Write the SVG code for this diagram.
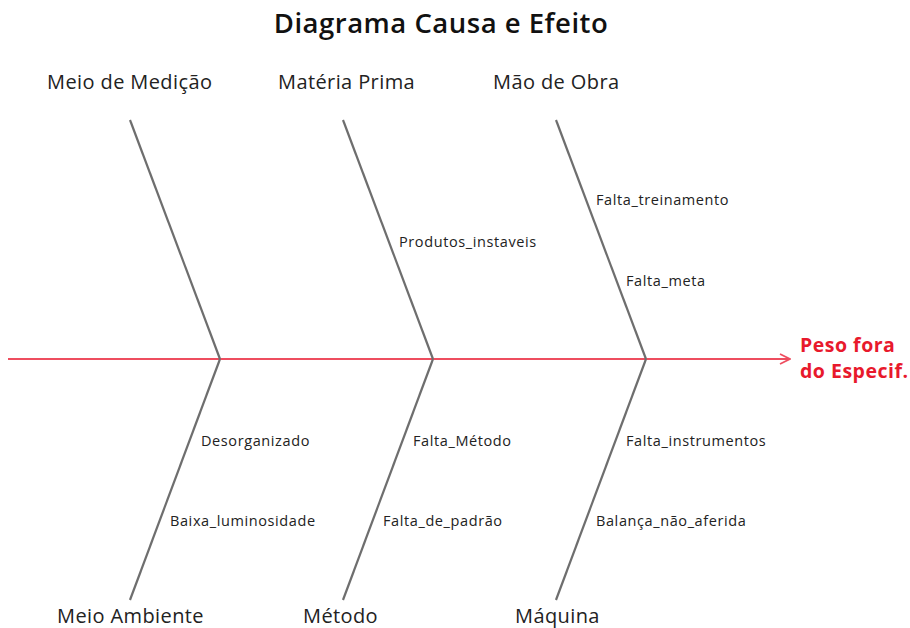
<svg xmlns="http://www.w3.org/2000/svg" width="910" height="628" viewBox="0 0 910 628">
<style>
.title{font-family:"Open Sans","Noto Sans",sans-serif;font-size:27.5px;font-weight:600;letter-spacing:0.5px;fill:#111}
.cat{font-family:"Open Sans","Noto Sans",sans-serif;font-size:20px;letter-spacing:0.4px;fill:#222}
.cause{font-family:"Open Sans","Noto Sans",sans-serif;font-size:14.5px;letter-spacing:0.6px;fill:#222}
.effect{font-family:"Open Sans","Noto Sans",sans-serif;font-size:19.5px;font-weight:700;letter-spacing:0.5px;fill:#e8192c}
.bone{stroke:#6e6e6e;stroke-width:2.2;fill:none}
.spine{stroke:#ee4d5f;stroke-width:2.2;fill:none}
</style>
<defs>
<marker id="arrow" viewBox="0 0 12 12" refX="11" refY="6" markerWidth="12" markerHeight="12" markerUnits="userSpaceOnUse" orient="auto">
<path d="M1,1 L11,6 L1,11" fill="none" stroke="#ee4d5f" stroke-width="1.8"/>
</marker>
</defs>
<rect width="910" height="628" fill="#ffffff"/>
<text class="title" x="441" y="33" text-anchor="middle">Diagrama Causa e Efeito</text>
<g id="connectors">
<line class="spine" x1="8" y1="359" x2="790" y2="359" marker-end="url(#arrow)"/>
<line class="bone" x1="130" y1="120" x2="220" y2="359"/>
<line class="bone" x1="343" y1="120" x2="433" y2="359"/>
<line class="bone" x1="556" y1="120" x2="646" y2="359"/>
<line class="bone" x1="220" y1="359" x2="130" y2="600"/>
<line class="bone" x1="433" y1="359" x2="343" y2="600"/>
<line class="bone" x1="646" y1="359" x2="556" y2="600"/>
</g>
<g id="meio-medicao"><text class="cat" x="47" y="89">Meio de Medição</text></g>
<g id="materia-prima"><text class="cat" x="278" y="89">Matéria Prima</text>
<text class="cause" x="399" y="247">Produtos_instaveis</text></g>
<g id="mao-obra"><text class="cat" x="493" y="89">Mão de Obra</text>
<text class="cause" x="596" y="205">Falta_treinamento</text>
<text class="cause" x="626" y="286">Falta_meta</text></g>
<g id="meio-ambiente"><text class="cat" x="57" y="623">Meio Ambiente</text>
<text class="cause" x="201" y="446">Desorganizado</text>
<text class="cause" x="170" y="526">Baixa_luminosidade</text></g>
<g id="metodo"><text class="cat" x="303" y="623">Método</text>
<text class="cause" x="413" y="446">Falta_Método</text>
<text class="cause" x="383" y="526">Falta_de_padrão</text></g>
<g id="maquina"><text class="cat" x="515" y="623">Máquina</text>
<text class="cause" x="626" y="446">Falta_instrumentos</text>
<text class="cause" x="596" y="526">Balança_não_aferida</text></g>
<g id="effect"><text class="effect" x="800" y="352">Peso fora</text>
<text class="effect" x="800" y="378">do Especif.</text></g>
</svg>
